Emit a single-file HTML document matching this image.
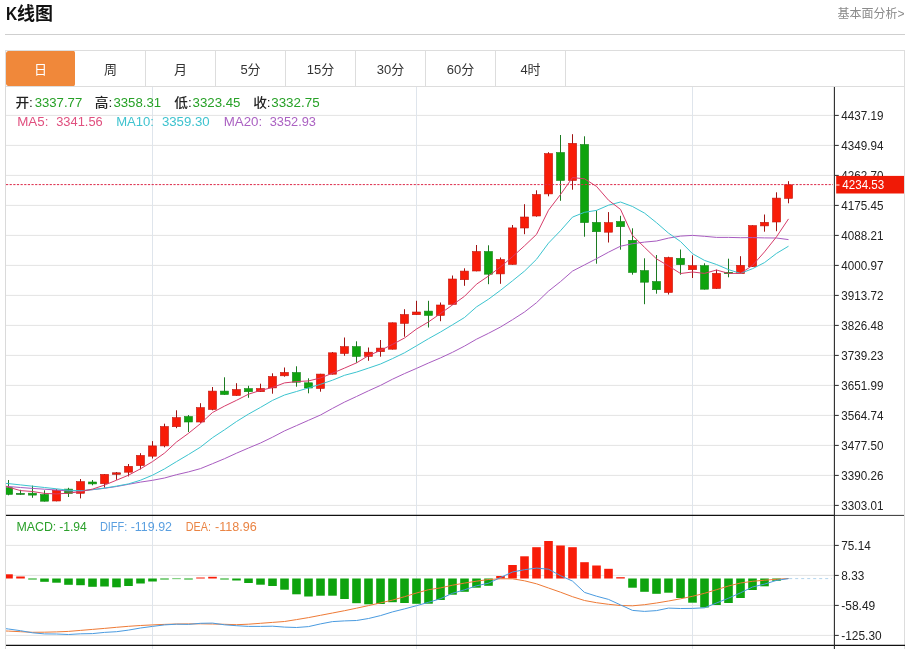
<!DOCTYPE html>
<html lang="zh-CN">
<head>
<meta charset="utf-8">
<title>K线图</title>
<style>
html,body{margin:0;padding:0;background:#fff;}
body{width:907px;height:649px;position:relative;overflow:hidden;font-family:"Liberation Sans","Noto Sans CJK SC",sans-serif;}
.hd{position:absolute;left:5px;top:0;width:900px;height:34px;border-bottom:1px solid #cfcfcf;}
.hd h2{position:absolute;left:1px;top:2px;margin:0;font-size:18px;line-height:24px;font-weight:bold;color:#111;letter-spacing:0;}
.hd h2 .k{display:inline-block;transform:scaleX(0.86);transform-origin:0 50%;margin-right:-2.1px;}
.hd a{position:absolute;right:0.5px;top:4.5px;font-size:12px;line-height:18px;color:#8a8a8a;text-decoration:none;}
.tabs{position:absolute;left:5px;top:50px;width:899px;height:35px;border:1px solid #ddd;border-right:none;box-sizing:content-box;margin:0;padding:0;list-style:none;}
.tabs li{float:left;width:69px;height:35px;line-height:37px;border-right:1px solid #ddd;text-align:center;font-size:13px;color:#333;}
.tabs li.on{background:#f0883a;color:#fff;border-right-color:transparent;background-clip:padding-box;border-radius:2px;}
</style>
</head>
<body>
<div class="hd"><h2><span class="k">K</span>线图</h2><a>基本面分析&gt;</a></div>
<ul class="tabs"><li class="on">日</li><li>周</li><li>月</li><li>5分</li><li>15分</li><li>30分</li><li>60分</li><li>4时</li></ul>
<svg width="907" height="649" viewBox="0 0 907 649" style="position:absolute;left:0;top:0">
<defs><clipPath id="cp"><rect x="6" y="87" width="829" height="559"/></clipPath></defs>
<path d="M6 115.4 H834 M6 145.4 H834 M6 175.4 H834 M6 205.4 H834 M6 235.4 H834 M6 265.4 H834 M6 295.4 H834 M6 325.4 H834 M6 355.4 H834 M6 385.4 H834 M6 415.4 H834 M6 445.4 H834 M6 475.4 H834 M6 505.4 H834 M6 545.4 H834 M6 575.4 H834 M6 605.4 H834 M6 635.4 H834" stroke="#e4e4e4" stroke-width="1" fill="none"/>
<path d="M152.5 87 V649 M416.5 87 V649 M692.5 87 V649" stroke="#dfe5ec" stroke-width="1" fill="none"/>
<path d="M5.5 86 V649" stroke="#dadada" stroke-width="1" fill="none"/>
<path d="M904.5 50 V649" stroke="#ddd" stroke-width="1" fill="none"/>
<g clip-path="url(#cp)">
<path d="M789.2 578.6 H832" stroke="#b4d4ec" stroke-width="1" stroke-dasharray="3 3" fill="none"/>
<rect x="4.2" y="574.3" width="8.6" height="4.2" fill="#f81c08"/>
<rect x="16.2" y="576.5" width="8.6" height="2" fill="#f81c08"/>
<rect x="28.2" y="578.5" width="8.6" height="1" fill="#0ea30e"/>
<rect x="40.2" y="578.5" width="8.6" height="3.3" fill="#0ea30e"/>
<rect x="52.2" y="578.5" width="8.6" height="4.2" fill="#0ea30e"/>
<rect x="64.2" y="578.5" width="8.6" height="6.3" fill="#0ea30e"/>
<rect x="76.2" y="578.5" width="8.6" height="6.7" fill="#0ea30e"/>
<rect x="88.2" y="578.5" width="8.6" height="8.3" fill="#0ea30e"/>
<rect x="100.2" y="578.5" width="8.6" height="8" fill="#0ea30e"/>
<rect x="112.2" y="578.5" width="8.6" height="8.8" fill="#0ea30e"/>
<rect x="124.2" y="578.5" width="8.6" height="7.5" fill="#0ea30e"/>
<rect x="136.2" y="578.5" width="8.6" height="5" fill="#0ea30e"/>
<rect x="148.2" y="578.5" width="8.6" height="3" fill="#0ea30e"/>
<rect x="160.2" y="578.5" width="8.6" height="1" fill="#0ea30e"/>
<rect x="172.2" y="578.5" width="8.6" height="0.6" fill="#0ea30e"/>
<rect x="184.2" y="578.5" width="8.6" height="1" fill="#0ea30e"/>
<rect x="196.2" y="577.5" width="8.6" height="1" fill="#f81c08"/>
<rect x="208.2" y="576.8" width="8.6" height="1.7" fill="#f81c08"/>
<rect x="220.2" y="578.5" width="8.6" height="1" fill="#0ea30e"/>
<rect x="232.2" y="578.5" width="8.6" height="2" fill="#0ea30e"/>
<rect x="244.2" y="578.5" width="8.6" height="4.5" fill="#0ea30e"/>
<rect x="256.2" y="578.5" width="8.6" height="6.2" fill="#0ea30e"/>
<rect x="268.2" y="578.5" width="8.6" height="7.5" fill="#0ea30e"/>
<rect x="280.2" y="578.5" width="8.6" height="11.2" fill="#0ea30e"/>
<rect x="292.2" y="578.5" width="8.6" height="15.8" fill="#0ea30e"/>
<rect x="304.2" y="578.5" width="8.6" height="18" fill="#0ea30e"/>
<rect x="316.2" y="578.5" width="8.6" height="17.2" fill="#0ea30e"/>
<rect x="328.2" y="578.5" width="8.6" height="17.2" fill="#0ea30e"/>
<rect x="340.2" y="578.5" width="8.6" height="20.5" fill="#0ea30e"/>
<rect x="352.2" y="578.5" width="8.6" height="24.7" fill="#0ea30e"/>
<rect x="364.2" y="578.5" width="8.6" height="25.8" fill="#0ea30e"/>
<rect x="376.2" y="578.5" width="8.6" height="25.5" fill="#0ea30e"/>
<rect x="388.2" y="578.5" width="8.6" height="23.7" fill="#0ea30e"/>
<rect x="400.2" y="578.5" width="8.6" height="24.5" fill="#0ea30e"/>
<rect x="412.2" y="578.5" width="8.6" height="25.3" fill="#0ea30e"/>
<rect x="424.2" y="578.5" width="8.6" height="25.2" fill="#0ea30e"/>
<rect x="436.2" y="578.5" width="8.6" height="21.5" fill="#0ea30e"/>
<rect x="448.2" y="578.5" width="8.6" height="16.2" fill="#0ea30e"/>
<rect x="460.2" y="578.5" width="8.6" height="13.3" fill="#0ea30e"/>
<rect x="472.2" y="578.5" width="8.6" height="9.2" fill="#0ea30e"/>
<rect x="484.2" y="578.5" width="8.6" height="7.3" fill="#0ea30e"/>
<rect x="496.2" y="576" width="8.6" height="2.5" fill="#f81c08"/>
<rect x="508.2" y="565" width="8.6" height="13.5" fill="#f81c08"/>
<rect x="520.2" y="556.3" width="8.6" height="22.2" fill="#f81c08"/>
<rect x="532.2" y="547.2" width="8.6" height="31.3" fill="#f81c08"/>
<rect x="544.2" y="541" width="8.6" height="37.5" fill="#f81c08"/>
<rect x="556.2" y="545.5" width="8.6" height="33" fill="#f81c08"/>
<rect x="568.2" y="547.2" width="8.6" height="31.3" fill="#f81c08"/>
<rect x="580.2" y="562.2" width="8.6" height="16.3" fill="#f81c08"/>
<rect x="592.2" y="565.5" width="8.6" height="13" fill="#f81c08"/>
<rect x="604.2" y="568.8" width="8.6" height="9.7" fill="#f81c08"/>
<rect x="616.2" y="577.2" width="8.6" height="1.3" fill="#f81c08"/>
<rect x="628.2" y="578.5" width="8.6" height="9.2" fill="#0ea30e"/>
<rect x="640.2" y="578.5" width="8.6" height="13.3" fill="#0ea30e"/>
<rect x="652.2" y="578.5" width="8.6" height="15.3" fill="#0ea30e"/>
<rect x="664.2" y="578.5" width="8.6" height="14.2" fill="#0ea30e"/>
<rect x="676.2" y="578.5" width="8.6" height="19.5" fill="#0ea30e"/>
<rect x="688.2" y="578.5" width="8.6" height="24.2" fill="#0ea30e"/>
<rect x="700.2" y="578.5" width="8.6" height="29" fill="#0ea30e"/>
<rect x="712.2" y="578.5" width="8.6" height="26.5" fill="#0ea30e"/>
<rect x="724.2" y="578.5" width="8.6" height="24.5" fill="#0ea30e"/>
<rect x="736.2" y="578.5" width="8.6" height="19.5" fill="#0ea30e"/>
<rect x="748.2" y="578.5" width="8.6" height="11.5" fill="#0ea30e"/>
<rect x="760.2" y="578.5" width="8.6" height="7.8" fill="#0ea30e"/>
<rect x="772.2" y="578.5" width="8.6" height="2.3" fill="#0ea30e"/>
<path d="M8.5 480 V495.3" stroke="#1c7a22" stroke-width="1" fill="none"/>
<rect x="4.5" y="487.7" width="8.1" height="6.7" fill="#0ea30e" stroke="#16861a" stroke-width="0.6"/>
<path d="M20.5 489.8 V494.8" stroke="#1c7a22" stroke-width="1" fill="none"/>
<rect x="16.4" y="493.3" width="8.2" height="1.2" fill="#0ea30e" stroke="#1c7a22" stroke-width="0.6"/>
<path d="M32.5 485.6 V497.8" stroke="#1c7a22" stroke-width="1" fill="none"/>
<rect x="28.4" y="493.2" width="8.1" height="1.9" fill="#0ea30e" stroke="#16861a" stroke-width="0.6"/>
<path d="M44.5 490.3 V501.5" stroke="#1c7a22" stroke-width="1" fill="none"/>
<rect x="40.5" y="494.5" width="8.1" height="6.7" fill="#0ea30e" stroke="#16861a" stroke-width="0.6"/>
<path d="M56.5 489 V501.3" stroke="#a01414" stroke-width="1" fill="none"/>
<rect x="52.5" y="490.2" width="8.1" height="10.8" fill="#f81c08" stroke="#c01812" stroke-width="0.6"/>
<path d="M68.5 487.8 V497" stroke="#1c7a22" stroke-width="1" fill="none"/>
<rect x="64.5" y="489.1" width="8.1" height="4.3" fill="#0ea30e" stroke="#16861a" stroke-width="0.6"/>
<path d="M80.5 479 V498.4" stroke="#a01414" stroke-width="1" fill="none"/>
<rect x="76.5" y="481.6" width="8.1" height="11.7" fill="#f81c08" stroke="#c01812" stroke-width="0.6"/>
<path d="M92.5 480 V485.3" stroke="#1c7a22" stroke-width="1" fill="none"/>
<rect x="88.5" y="482" width="8.1" height="1.9" fill="#0ea30e" stroke="#16861a" stroke-width="0.6"/>
<path d="M104.5 474.1 V487.7" stroke="#a01414" stroke-width="1" fill="none"/>
<rect x="100.5" y="474.4" width="8.1" height="9.3" fill="#f81c08" stroke="#c01812" stroke-width="0.6"/>
<path d="M116.5 472 V479.8" stroke="#a01414" stroke-width="1" fill="none"/>
<rect x="112.4" y="472.8" width="8.2" height="1.5" fill="#f81c08" stroke="#a01414" stroke-width="0.6"/>
<path d="M128.5 464 V476.4" stroke="#a01414" stroke-width="1" fill="none"/>
<rect x="124.5" y="466.3" width="8.1" height="5.9" fill="#f81c08" stroke="#c01812" stroke-width="0.6"/>
<path d="M140.5 453.2 V469.4" stroke="#a01414" stroke-width="1" fill="none"/>
<rect x="136.4" y="455.4" width="8.1" height="10.2" fill="#f81c08" stroke="#c01812" stroke-width="0.6"/>
<path d="M152.5 441.1 V458.5" stroke="#a01414" stroke-width="1" fill="none"/>
<rect x="148.4" y="445.9" width="8.1" height="10.3" fill="#f81c08" stroke="#c01812" stroke-width="0.6"/>
<path d="M164.5 423.7 V447.3" stroke="#a01414" stroke-width="1" fill="none"/>
<rect x="160.4" y="426.5" width="8.1" height="19.4" fill="#f81c08" stroke="#c01812" stroke-width="0.6"/>
<path d="M176.5 410.3 V428.2" stroke="#a01414" stroke-width="1" fill="none"/>
<rect x="172.4" y="417.6" width="8.1" height="9.1" fill="#f81c08" stroke="#c01812" stroke-width="0.6"/>
<path d="M188.5 415 V432" stroke="#1c7a22" stroke-width="1" fill="none"/>
<rect x="184.4" y="416.5" width="8.1" height="5.5" fill="#0ea30e" stroke="#16861a" stroke-width="0.6"/>
<path d="M200.5 403.2 V422.8" stroke="#a01414" stroke-width="1" fill="none"/>
<rect x="196.4" y="407.6" width="8.1" height="14.4" fill="#f81c08" stroke="#c01812" stroke-width="0.6"/>
<path d="M212.5 387 V410.3" stroke="#a01414" stroke-width="1" fill="none"/>
<rect x="208.4" y="391.1" width="8.1" height="18.4" fill="#f81c08" stroke="#c01812" stroke-width="0.6"/>
<path d="M224.5 377.3 V394.8" stroke="#1c7a22" stroke-width="1" fill="none"/>
<rect x="220.4" y="391.1" width="8.1" height="3.4" fill="#0ea30e" stroke="#16861a" stroke-width="0.6"/>
<path d="M236.5 383.2 V395.8" stroke="#a01414" stroke-width="1" fill="none"/>
<rect x="232.4" y="389.5" width="8.1" height="6" fill="#f81c08" stroke="#c01812" stroke-width="0.6"/>
<path d="M248.5 385.8 V397.8" stroke="#1c7a22" stroke-width="1" fill="none"/>
<rect x="244.4" y="388.6" width="8.1" height="3.1" fill="#0ea30e" stroke="#16861a" stroke-width="0.6"/>
<path d="M260.5 383.7 V392" stroke="#a01414" stroke-width="1" fill="none"/>
<rect x="256.4" y="388.5" width="8.1" height="3.2" fill="#f81c08" stroke="#c01812" stroke-width="0.6"/>
<path d="M272.5 373.3 V393.7" stroke="#a01414" stroke-width="1" fill="none"/>
<rect x="268.4" y="376.5" width="8.1" height="11.4" fill="#f81c08" stroke="#c01812" stroke-width="0.6"/>
<path d="M284.5 367.5 V376.7" stroke="#a01414" stroke-width="1" fill="none"/>
<rect x="280.4" y="372.4" width="8.1" height="3.4" fill="#f81c08" stroke="#c01812" stroke-width="0.6"/>
<path d="M296.5 366.3 V386.7" stroke="#1c7a22" stroke-width="1" fill="none"/>
<rect x="292.4" y="372.5" width="8.1" height="9.7" fill="#0ea30e" stroke="#16861a" stroke-width="0.6"/>
<path d="M308.5 378.3 V393.3" stroke="#1c7a22" stroke-width="1" fill="none"/>
<rect x="304.4" y="382.8" width="8.1" height="5.2" fill="#0ea30e" stroke="#16861a" stroke-width="0.6"/>
<path d="M320.5 373.8 V391.7" stroke="#a01414" stroke-width="1" fill="none"/>
<rect x="316.4" y="374.1" width="8.1" height="14.4" fill="#f81c08" stroke="#c01812" stroke-width="0.6"/>
<path d="M332.5 352 V374.5" stroke="#a01414" stroke-width="1" fill="none"/>
<rect x="328.4" y="352.8" width="8.1" height="21.4" fill="#f81c08" stroke="#c01812" stroke-width="0.6"/>
<path d="M344.5 337.5 V355.8" stroke="#a01414" stroke-width="1" fill="none"/>
<rect x="340.4" y="346.6" width="8.1" height="6.9" fill="#f81c08" stroke="#c01812" stroke-width="0.6"/>
<path d="M356.5 341.3 V362.8" stroke="#1c7a22" stroke-width="1" fill="none"/>
<rect x="352.4" y="346.6" width="8.1" height="9.8" fill="#0ea30e" stroke="#16861a" stroke-width="0.6"/>
<path d="M368.5 347.5 V360.8" stroke="#a01414" stroke-width="1" fill="none"/>
<rect x="364.4" y="352.2" width="8.1" height="4.1" fill="#f81c08" stroke="#c01812" stroke-width="0.6"/>
<path d="M380.5 340 V356.7" stroke="#a01414" stroke-width="1" fill="none"/>
<rect x="376.4" y="348.1" width="8.1" height="3.6" fill="#f81c08" stroke="#c01812" stroke-width="0.6"/>
<path d="M392.5 322.5 V349.5" stroke="#a01414" stroke-width="1" fill="none"/>
<rect x="388.4" y="322.8" width="8.1" height="26.4" fill="#f81c08" stroke="#c01812" stroke-width="0.6"/>
<path d="M404.5 309.2 V336.7" stroke="#a01414" stroke-width="1" fill="none"/>
<rect x="400.4" y="314.5" width="8.1" height="8.9" fill="#f81c08" stroke="#c01812" stroke-width="0.6"/>
<path d="M416.5 300.8 V315" stroke="#a01414" stroke-width="1" fill="none"/>
<rect x="412.4" y="312" width="8.1" height="2.7" fill="#f81c08" stroke="#c01812" stroke-width="0.6"/>
<path d="M428.5 300.8 V327.5" stroke="#1c7a22" stroke-width="1" fill="none"/>
<rect x="424.4" y="311.1" width="8.1" height="4.3" fill="#0ea30e" stroke="#16861a" stroke-width="0.6"/>
<path d="M440.5 302.5 V321.2" stroke="#a01414" stroke-width="1" fill="none"/>
<rect x="436.4" y="305" width="8.1" height="10.5" fill="#f81c08" stroke="#c01812" stroke-width="0.6"/>
<path d="M452.5 275.5 V304.7" stroke="#a01414" stroke-width="1" fill="none"/>
<rect x="448.4" y="279" width="8.1" height="25.4" fill="#f81c08" stroke="#c01812" stroke-width="0.6"/>
<path d="M464.5 268.3 V285.8" stroke="#a01414" stroke-width="1" fill="none"/>
<rect x="460.4" y="271.1" width="8.1" height="8.6" fill="#f81c08" stroke="#c01812" stroke-width="0.6"/>
<path d="M476.5 245 V271.3" stroke="#a01414" stroke-width="1" fill="none"/>
<rect x="472.4" y="251.5" width="8.1" height="19.5" fill="#f81c08" stroke="#c01812" stroke-width="0.6"/>
<path d="M488.5 245.3 V284.2" stroke="#1c7a22" stroke-width="1" fill="none"/>
<rect x="484.4" y="251.5" width="8.1" height="22.7" fill="#0ea30e" stroke="#16861a" stroke-width="0.6"/>
<path d="M500.5 257.5 V283.8" stroke="#a01414" stroke-width="1" fill="none"/>
<rect x="496.4" y="259.5" width="8.1" height="14.4" fill="#f81c08" stroke="#c01812" stroke-width="0.6"/>
<path d="M512.5 225 V264.7" stroke="#a01414" stroke-width="1" fill="none"/>
<rect x="508.4" y="227.9" width="8.1" height="36.5" fill="#f81c08" stroke="#c01812" stroke-width="0.6"/>
<path d="M524.5 204.2 V234.2" stroke="#a01414" stroke-width="1" fill="none"/>
<rect x="520.5" y="217" width="8.1" height="11" fill="#f81c08" stroke="#c01812" stroke-width="0.6"/>
<path d="M536.5 190.3 V216.7" stroke="#a01414" stroke-width="1" fill="none"/>
<rect x="532.5" y="194.5" width="8.1" height="21.5" fill="#f81c08" stroke="#c01812" stroke-width="0.6"/>
<path d="M548.5 152.2 V196.3" stroke="#a01414" stroke-width="1" fill="none"/>
<rect x="544.5" y="153.6" width="8.1" height="40.3" fill="#f81c08" stroke="#c01812" stroke-width="0.6"/>
<path d="M560.5 135 V200.8" stroke="#1c7a22" stroke-width="1" fill="none"/>
<rect x="556.5" y="152.5" width="8.1" height="28" fill="#0ea30e" stroke="#16861a" stroke-width="0.6"/>
<path d="M572.5 134.2 V189.7" stroke="#a01414" stroke-width="1" fill="none"/>
<rect x="568.5" y="143.3" width="8.1" height="37.2" fill="#f81c08" stroke="#c01812" stroke-width="0.6"/>
<path d="M584.5 136.3 V236.7" stroke="#1c7a22" stroke-width="1" fill="none"/>
<rect x="580.5" y="144.5" width="8.1" height="78.1" fill="#0ea30e" stroke="#16861a" stroke-width="0.6"/>
<path d="M596.5 210.5 V263.7" stroke="#1c7a22" stroke-width="1" fill="none"/>
<rect x="592.5" y="222.4" width="8.1" height="9.3" fill="#0ea30e" stroke="#16861a" stroke-width="0.6"/>
<path d="M608.5 212.1 V242.5" stroke="#a01414" stroke-width="1" fill="none"/>
<rect x="604.5" y="222.6" width="8.1" height="9.6" fill="#f81c08" stroke="#c01812" stroke-width="0.6"/>
<path d="M620.5 215.8 V249.7" stroke="#1c7a22" stroke-width="1" fill="none"/>
<rect x="616.5" y="221.5" width="8.1" height="5.2" fill="#0ea30e" stroke="#16861a" stroke-width="0.6"/>
<path d="M632.5 228.3 V274.7" stroke="#1c7a22" stroke-width="1" fill="none"/>
<rect x="628.5" y="240.3" width="8.1" height="32.2" fill="#0ea30e" stroke="#16861a" stroke-width="0.6"/>
<path d="M644.5 258.3 V304.2" stroke="#1c7a22" stroke-width="1" fill="none"/>
<rect x="640.5" y="270.6" width="8.1" height="11.6" fill="#0ea30e" stroke="#16861a" stroke-width="0.6"/>
<path d="M656.5 255 V293.7" stroke="#1c7a22" stroke-width="1" fill="none"/>
<rect x="652.5" y="281.5" width="8.1" height="8.2" fill="#0ea30e" stroke="#16861a" stroke-width="0.6"/>
<path d="M668.5 256.7 V294.5" stroke="#a01414" stroke-width="1" fill="none"/>
<rect x="664.5" y="257.5" width="8.1" height="35" fill="#f81c08" stroke="#c01812" stroke-width="0.6"/>
<path d="M680.5 249.5 V274.7" stroke="#1c7a22" stroke-width="1" fill="none"/>
<rect x="676.5" y="258.3" width="8.1" height="6.4" fill="#0ea30e" stroke="#16861a" stroke-width="0.6"/>
<path d="M692.5 255.3 V278" stroke="#a01414" stroke-width="1" fill="none"/>
<rect x="688.5" y="265.6" width="8.1" height="4.1" fill="#f81c08" stroke="#c01812" stroke-width="0.6"/>
<path d="M704.5 263.3 V289.5" stroke="#1c7a22" stroke-width="1" fill="none"/>
<rect x="700.5" y="265.6" width="8.1" height="23.6" fill="#0ea30e" stroke="#16861a" stroke-width="0.6"/>
<path d="M716.5 269.6 V288.8" stroke="#a01414" stroke-width="1" fill="none"/>
<rect x="712.5" y="273.4" width="8.1" height="15.1" fill="#f81c08" stroke="#c01812" stroke-width="0.6"/>
<path d="M728.5 258.7 V277.3" stroke="#1c7a22" stroke-width="1" fill="none"/>
<rect x="724.4" y="272.3" width="8.2" height="1.4" fill="#0ea30e" stroke="#1c7a22" stroke-width="0.6"/>
<path d="M740.5 256.2 V274" stroke="#a01414" stroke-width="1" fill="none"/>
<rect x="736.5" y="265.3" width="8.1" height="8.4" fill="#f81c08" stroke="#c01812" stroke-width="0.6"/>
<path d="M752.5 225.3 V267" stroke="#a01414" stroke-width="1" fill="none"/>
<rect x="748.5" y="225.6" width="8.1" height="41.1" fill="#f81c08" stroke="#c01812" stroke-width="0.6"/>
<path d="M764.5 214.5 V231.7" stroke="#a01414" stroke-width="1" fill="none"/>
<rect x="760.5" y="222.3" width="8.1" height="3.6" fill="#f81c08" stroke="#c01812" stroke-width="0.6"/>
<path d="M776.5 192.3 V231.2" stroke="#a01414" stroke-width="1" fill="none"/>
<rect x="772.5" y="198.1" width="8.1" height="23.9" fill="#f81c08" stroke="#c01812" stroke-width="0.6"/>
<path d="M788.5 181.2 V203.3" stroke="#a01414" stroke-width="1" fill="none"/>
<rect x="784.5" y="184.8" width="8.1" height="13.6" fill="#f81c08" stroke="#c01812" stroke-width="0.6"/>
<polyline fill="none" stroke="#a85cc0" stroke-width="1" stroke-linejoin="round" points="6,486.3 8.5,486.5 20.5,487.5 32.5,488.4 44.5,489.2 56.5,490 68.5,491 80.5,490.8 92.5,489.7 104.5,488.3 116.5,486.5 128.5,484.3 140.5,482.1 152.5,480.3 164.5,478 176.5,474.7 188.5,471.9 200.5,468.6 212.5,463.7 224.5,458.7 236.5,453.2 248.5,448 260.5,443 272.5,437.2 284.5,430.9 296.5,425.6 308.5,420.3 320.5,415 332.5,408.4 344.5,402.1 356.5,396.5 368.5,390.8 380.5,385.4 392.5,379.2 404.5,373.6 416.5,368.4 428.5,363 440.5,357.9 452.5,352.3 464.5,346.1 476.5,339.2 488.5,333.3 500.5,327 512.5,319.7 524.5,312 536.5,302.7 548.5,291.1 560.5,281.6 572.5,271.1 584.5,264.9 596.5,258.7 608.5,252.2 620.5,246.2 632.5,243.7 644.5,242.1 656.5,241 668.5,238.1 680.5,236.1 692.5,235.4 704.5,236.3 716.5,237.4 728.5,237.4 740.5,237.7 752.5,237.6 764.5,237.9 776.5,238 788.5,239.6"/>
<polyline fill="none" stroke="#3cc4cf" stroke-width="1" stroke-linejoin="round" points="6,483.4 8.5,483.6 20.5,484.9 32.5,486.2 44.5,487.5 56.5,488.8 68.5,490.2 80.5,490.8 92.5,489.6 104.5,488.1 116.5,486.1 128.5,483.9 140.5,480.2 152.5,475.2 164.5,468.9 176.5,461.6 188.5,454.5 200.5,447.1 212.5,437.7 224.5,429.8 236.5,421.5 248.5,414.1 260.5,407.4 272.5,400.4 284.5,395 296.5,391.5 308.5,387.9 320.5,384.3 332.5,380.2 344.5,375.3 356.5,372.1 368.5,368.1 380.5,364 392.5,358.6 404.5,352.8 416.5,345.8 428.5,338.7 440.5,332 452.5,324.8 464.5,317.5 476.5,306.9 488.5,299.2 500.5,290.3 512.5,280.8 524.5,271.1 536.5,259.3 548.5,243.1 560.5,230.7 572.5,217.1 584.5,212.3 596.5,210.4 608.5,205.2 620.5,202 632.5,206.5 644.5,213.1 656.5,222.7 668.5,233.1 680.5,241.5 692.5,253.7 704.5,260.4 716.5,264.5 728.5,269.6 740.5,273.4 752.5,268.7 764.5,262.6 776.5,253.4 788.5,246.2"/>
<polyline fill="none" stroke="#d63c6a" stroke-width="1" stroke-linejoin="round" points="6,486.3 8.5,487.2 20.5,490.6 32.5,491.5 44.5,493.4 56.5,493.9 68.5,493.2 80.5,491.6 92.5,489.1 104.5,485.1 116.5,480.2 128.5,475.2 140.5,468.8 152.5,461.6 164.5,453.1 176.5,442 188.5,433.3 200.5,423.6 212.5,412.5 224.5,406.1 236.5,400.3 248.5,394.2 260.5,390.4 272.5,387.5 284.5,382.9 296.5,381.6 308.5,380.9 320.5,378 332.5,373.2 344.5,368.1 356.5,362.9 368.5,355.6 380.5,350.4 392.5,344.4 404.5,338 416.5,329 428.5,321.9 440.5,313.5 452.5,304.9 464.5,296.3 476.5,284.2 488.5,276 500.5,266.9 512.5,256.7 524.5,245.8 536.5,234.4 548.5,210.2 560.5,194.5 572.5,177.6 584.5,178.8 596.5,186.4 608.5,200.2 620.5,209.4 632.5,235.4 644.5,247.3 656.5,258.9 668.5,265.9 680.5,273.5 692.5,272 704.5,273.4 716.5,270 728.5,273.4 740.5,273.4 752.5,265.4 764.5,251.9 776.5,236.8 788.5,218.9"/>
<polyline fill="none" stroke="#ee7a36" stroke-width="1" stroke-linejoin="round" points="6,631 8.5,631.1 20.5,631.7 32.5,632.3 44.5,632.2 56.5,631.9 68.5,631.4 80.5,630.4 92.5,629.4 104.5,628.4 116.5,627.3 128.5,626.3 140.5,625.5 152.5,624.9 164.5,624.4 176.5,624 188.5,623.9 200.5,623.8 212.5,624 224.5,624.3 236.5,624.7 248.5,624.2 260.5,623.3 272.5,622.4 284.5,621.5 296.5,619.6 308.5,617.6 320.5,615.3 332.5,613 344.5,610.7 356.5,608.2 368.5,605.6 380.5,602.9 392.5,600.1 404.5,596.7 416.5,593 428.5,589.7 440.5,587.9 452.5,585.2 464.5,583.1 476.5,581.2 488.5,579.5 500.5,578.8 512.5,578.8 524.5,580.8 536.5,583.8 548.5,588 560.5,592.2 572.5,596.7 584.5,600.5 596.5,602.7 608.5,604.3 620.5,605.5 632.5,605.8 644.5,604.7 656.5,603 668.5,601 680.5,598.8 692.5,596.3 704.5,593.3 716.5,589.7 728.5,586 740.5,583 752.5,581.3 764.5,580.2 776.5,579.3 788.5,578.5"/>
<polyline fill="none" stroke="#4a9be0" stroke-width="1" stroke-linejoin="round" points="6,628.7 8.5,629 20.5,630.7 32.5,632.8 44.5,633.9 56.5,634 68.5,634.5 80.5,633.8 92.5,633.6 104.5,632.4 116.5,631.7 128.5,630.1 140.5,628 152.5,626.4 164.5,624.9 176.5,624.2 188.5,624.4 200.5,623.3 212.5,623.1 224.5,624.8 236.5,625.7 248.5,626.4 260.5,626.4 272.5,626.2 284.5,627.1 296.5,627.5 308.5,626.6 320.5,623.9 332.5,621.6 344.5,620.9 356.5,620.5 368.5,618.5 380.5,615.6 392.5,611.9 404.5,608.9 416.5,605.7 428.5,602.3 440.5,598.7 452.5,593.3 464.5,589.8 476.5,585.8 488.5,583.2 500.5,577.5 512.5,572 524.5,569.7 536.5,568.1 548.5,569.2 560.5,575.7 572.5,581.1 584.5,592.4 596.5,596.2 608.5,599.4 620.5,604.9 632.5,610.4 644.5,611.4 656.5,610.6 668.5,608.1 680.5,608.5 692.5,608.4 704.5,607.8 716.5,603 728.5,598.2 740.5,592.8 752.5,587 764.5,584.1 776.5,580.4 788.5,578.6"/>
</g>
<path d="M6 184.6 H833" stroke="#dc2848" stroke-width="1" stroke-dasharray="2.2 1.44" fill="none"/>
<path d="M6 515.4 H835" stroke="#111" stroke-width="1.2" fill="none"/>
<path d="M835 515.4 H904" stroke="#333" stroke-width="1" fill="none"/>
<path d="M6 645.3 H905" stroke="#111" stroke-width="1.2" fill="none"/>
<path d="M834.4 87 V649" stroke="#2a2a2a" stroke-width="1.1" fill="none"/>
<path d="M835 115.4 H838.8 M835 145.4 H838.8 M835 175.4 H838.8 M835 205.4 H838.8 M835 235.4 H838.8 M835 265.4 H838.8 M835 295.4 H838.8 M835 325.4 H838.8 M835 355.4 H838.8 M835 385.4 H838.8 M835 415.4 H838.8 M835 445.4 H838.8 M835 475.4 H838.8 M835 505.4 H838.8 M835 545.4 H838.8 M835 575.4 H838.8 M835 605.4 H838.8 M835 635.4 H838.8" stroke="#2a2a2a" stroke-width="1" fill="none"/>
<g font-family="'Liberation Sans', sans-serif" font-size="12" fill="#222">
<text x="841.3" y="119.7" textLength="42.1" lengthAdjust="spacingAndGlyphs">4437.19</text>
<text x="841.3" y="149.7" textLength="42.1" lengthAdjust="spacingAndGlyphs">4349.94</text>
<text x="841.3" y="179.7" textLength="42.1" lengthAdjust="spacingAndGlyphs">4262.70</text>
<text x="841.3" y="209.7" textLength="42.1" lengthAdjust="spacingAndGlyphs">4175.45</text>
<text x="841.3" y="239.7" textLength="42.1" lengthAdjust="spacingAndGlyphs">4088.21</text>
<text x="841.3" y="269.7" textLength="42.1" lengthAdjust="spacingAndGlyphs">4000.97</text>
<text x="841.3" y="299.7" textLength="42.1" lengthAdjust="spacingAndGlyphs">3913.72</text>
<text x="841.3" y="329.7" textLength="42.1" lengthAdjust="spacingAndGlyphs">3826.48</text>
<text x="841.3" y="359.7" textLength="42.1" lengthAdjust="spacingAndGlyphs">3739.23</text>
<text x="841.3" y="389.7" textLength="42.1" lengthAdjust="spacingAndGlyphs">3651.99</text>
<text x="841.3" y="419.7" textLength="42.1" lengthAdjust="spacingAndGlyphs">3564.74</text>
<text x="841.3" y="449.7" textLength="42.1" lengthAdjust="spacingAndGlyphs">3477.50</text>
<text x="841.3" y="479.7" textLength="42.1" lengthAdjust="spacingAndGlyphs">3390.26</text>
<text x="841.3" y="509.7" textLength="42.1" lengthAdjust="spacingAndGlyphs">3303.01</text>
<text x="841.3" y="549.7" textLength="29.4" lengthAdjust="spacingAndGlyphs">75.14</text>
<text x="841.3" y="579.7" textLength="23" lengthAdjust="spacingAndGlyphs">8.33</text>
<text x="841.3" y="609.7" textLength="34" lengthAdjust="spacingAndGlyphs">-58.49</text>
<text x="841.3" y="639.7" textLength="40.3" lengthAdjust="spacingAndGlyphs">-125.30</text>
</g>
<rect x="836.2" y="175.9" width="67.8" height="17.6" fill="#f01a06"/>
<path d="M836.2 185 H839.5" stroke="#fff" stroke-width="1" fill="none"/>
<text x="842.3" y="188.9" font-family="'Liberation Sans', sans-serif" font-size="12" fill="#fff" textLength="41.9" lengthAdjust="spacingAndGlyphs">4234.53</text>
<g font-family="'Liberation Sans', 'Noto Sans CJK SC', sans-serif">
<text x="15.4" y="106.9" fill="#222" font-size="13" font-weight="500" textLength="17.5" lengthAdjust="spacingAndGlyphs">开:</text>
<text x="34.7" y="107.2" fill="#27a127" font-size="13.6" textLength="47.5" lengthAdjust="spacingAndGlyphs">3337.77</text>
<text x="94.8" y="106.9" fill="#222" font-size="13" font-weight="500" textLength="17.5" lengthAdjust="spacingAndGlyphs">高:</text>
<text x="113.4" y="107.2" fill="#27a127" font-size="13.6" textLength="47.7" lengthAdjust="spacingAndGlyphs">3358.31</text>
<text x="174.3" y="106.9" fill="#222" font-size="13" font-weight="500" textLength="17.5" lengthAdjust="spacingAndGlyphs">低:</text>
<text x="192.5" y="107.2" fill="#27a127" font-size="13.6" textLength="48" lengthAdjust="spacingAndGlyphs">3323.45</text>
<text x="253.2" y="106.9" fill="#222" font-size="13" font-weight="500" textLength="17.5" lengthAdjust="spacingAndGlyphs">收:</text>
<text x="271.2" y="107.2" fill="#27a127" font-size="13.6" textLength="48.4" lengthAdjust="spacingAndGlyphs">3332.75</text>
<text x="17.2" y="125.9" fill="#e0507f" font-size="13.6" textLength="31.2" lengthAdjust="spacingAndGlyphs">MA5:</text>
<text x="56.2" y="125.9" fill="#e0507f" font-size="13.6" textLength="46.5" lengthAdjust="spacingAndGlyphs">3341.56</text>
<text x="116.2" y="125.9" fill="#3fc3cf" font-size="13.6" textLength="37.8" lengthAdjust="spacingAndGlyphs">MA10:</text>
<text x="161.9" y="125.9" fill="#3fc3cf" font-size="13.6" textLength="47.8" lengthAdjust="spacingAndGlyphs">3359.30</text>
<text x="223.7" y="125.9" fill="#ab62c2" font-size="13.6" textLength="38.5" lengthAdjust="spacingAndGlyphs">MA20:</text>
<text x="269.7" y="125.9" fill="#ab62c2" font-size="13.6" textLength="46.3" lengthAdjust="spacingAndGlyphs">3352.93</text>
<text x="16.4" y="530.7" fill="#2ba02b" font-size="13.6" textLength="39.9" lengthAdjust="spacingAndGlyphs">MACD:</text>
<text x="59.2" y="530.7" fill="#2ba02b" font-size="13.6" textLength="27.6" lengthAdjust="spacingAndGlyphs">-1.94</text>
<text x="99.9" y="530.7" fill="#5a9fe0" font-size="13.6" textLength="27.4" lengthAdjust="spacingAndGlyphs">DIFF:</text>
<text x="130.7" y="530.7" fill="#5a9fe0" font-size="13.6" textLength="41.3" lengthAdjust="spacingAndGlyphs">-119.92</text>
<text x="185.8" y="530.7" fill="#ea8444" font-size="13.6" textLength="25.2" lengthAdjust="spacingAndGlyphs">DEA:</text>
<text x="215" y="530.7" fill="#ea8444" font-size="13.6" textLength="41.7" lengthAdjust="spacingAndGlyphs">-118.96</text>
</g>
</svg>
</body>
</html>
